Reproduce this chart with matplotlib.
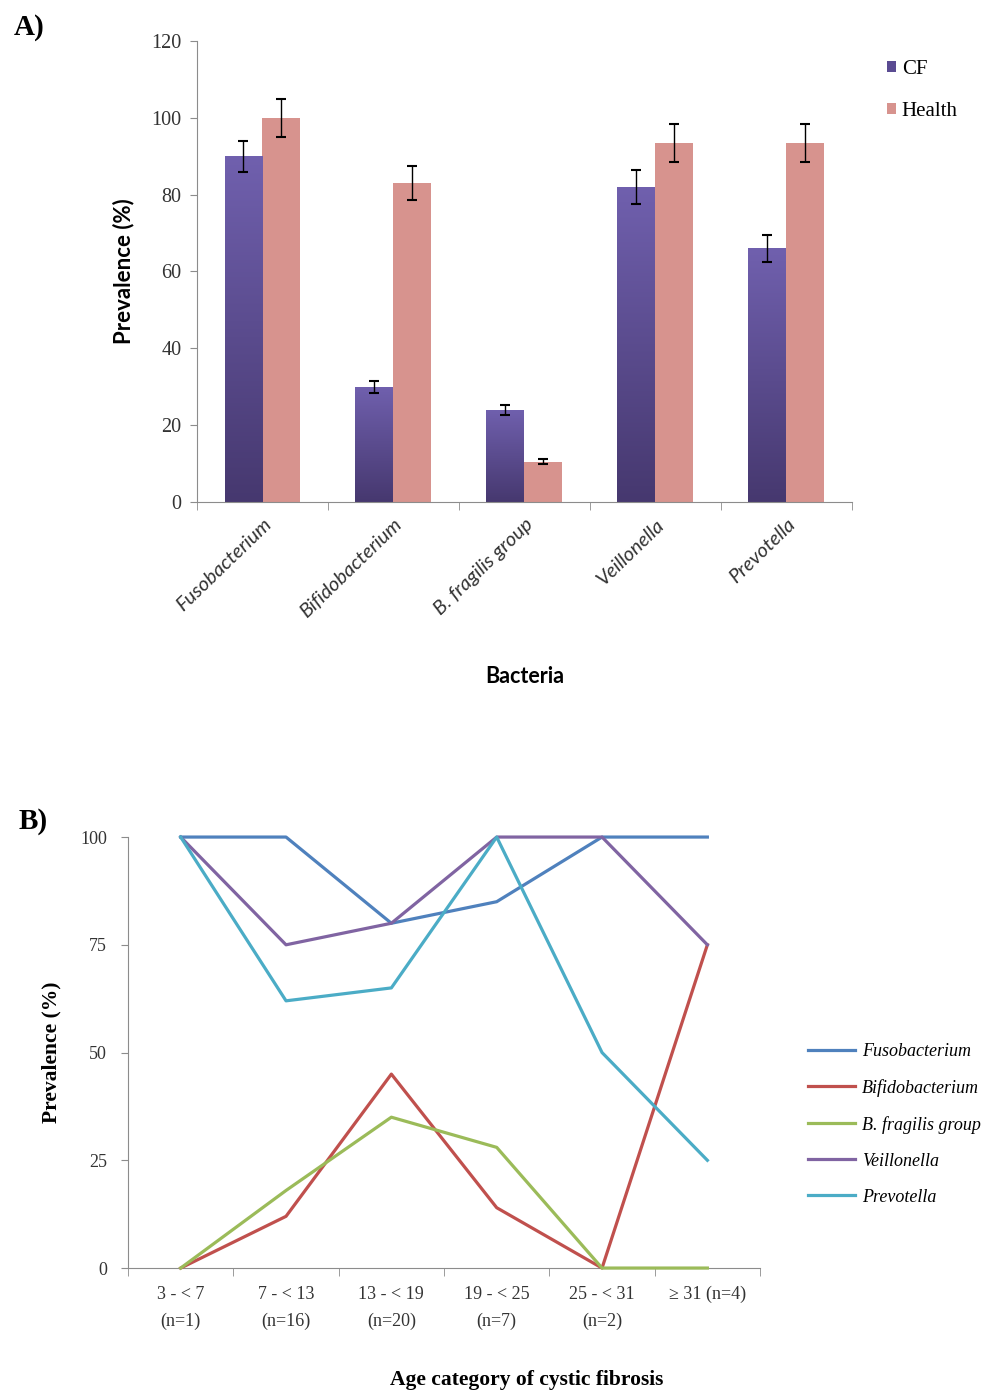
import matplotlib
matplotlib.use("Agg")
import matplotlib.pyplot as plt
import numpy as np

# ---- panel A data
bacteria = ["Fusobacterium", "Bifidobacterium", "B. fragilis group", "Veillonella", "Prevotella"]
cf_vals = [90, 30, 24, 82, 66]
cf_err = [4, 1.5, 1.3, 4.5, 3.5]
health_vals = [100, 83, 10.5, 93.5, 93.5]
health_err = [5, 4.5, 0.7, 5, 5]

# ---- panel B data
age_labels = ["3 - < 7\n(n=1)", "7 - < 13\n(n=16)", "13 - < 19\n(n=20)",
              "19 - < 25\n(n=7)", "25 - < 31\n(n=2)", "\u2265 31 (n=4)"]
fuso = [100, 100, 80, 85, 100, 100]
bifido = [0, 12, 45, 14, 0, 75]
bfrag = [0, 18, 35, 28, 0, 0]
veill = [100, 75, 80, 100, 100, 75]
prevo = [100, 62, 65, 100, 50, 25]

serif = "Liberation Serif"
sans = "Lato"
spine_col = "#8c8c8c"

fig = plt.figure(figsize=(9.84, 13.93), dpi=100)

# ================= A =================
axA = fig.add_axes([0.2002, 0.6396, 0.6656, 0.3310])
x = np.arange(len(bacteria))
w = 0.29
cf_bars = axA.bar(x - w/2, cf_vals, w, color="#5a4b92", zorder=2)
hb = axA.bar(x + w/2, health_vals, w, color="#d7938e", zorder=2)

# vertical gradient on the CF bars
grad = np.linspace(0, 1, 256).reshape(-1, 1)
cmap = matplotlib.colors.LinearSegmentedColormap.from_list("cfg", ["#46386f", "#7060ae"])
for b in cf_bars:
    bx, by = b.get_x(), b.get_y()
    im = axA.imshow(grad, cmap=cmap, aspect="auto", origin="lower",
                    extent=[bx, bx + b.get_width(), by, by + b.get_height()], zorder=2.5)
    im.set_clip_path(b)

axA.errorbar(x - w/2, cf_vals, yerr=cf_err, fmt="none", ecolor="black",
             elinewidth=1, capsize=3.5, capthick=1.5, zorder=4)
axA.errorbar(x + w/2, health_vals, yerr=health_err, fmt="none", ecolor="black",
             elinewidth=1, capsize=3.5, capthick=1.5, zorder=4)

axA.set_xlim(-0.5, 4.5)
axA.set_ylim(0, 120)
axA.set_yticks(range(0, 121, 20))
axA.set_xticks(x)
axA.set_xticks(np.arange(-0.5, 5, 1), minor=True)
axA.set_xticklabels(bacteria, rotation=44, ha="right", va="top",
                    rotation_mode="anchor", fontstyle="italic", family=sans, fontsize=14.5,
                    color="#333333")
axA.tick_params(axis="x", which="major", length=0, pad=10)
axA.tick_params(axis="x", which="minor", length=6, color=spine_col, direction="out")
axA.tick_params(axis="y", length=5, color=spine_col, direction="out", pad=6)
for lab in axA.get_yticklabels():
    lab.set_family(serif)
    lab.set_fontsize(14.5)
    lab.set_color("#333333")
for s in ["top", "right"]:
    axA.spines[s].set_visible(False)
for s in ["left", "bottom"]:
    axA.spines[s].set_color(spine_col)
axA.set_ylabel("Prevalence (%)", family=sans, fontweight="bold", fontsize=16, labelpad=12)
axA.set_xlabel("Bacteria", family=sans, fontweight="bold", fontsize=15.5)
axA.xaxis.set_label_coords(0.5, -0.355)
axA.legend([cf_bars, hb], ["CF", "Health"], loc="upper left", bbox_to_anchor=(1.025, 1.0),
           frameon=False, prop={"family": serif, "size": 15}, handlelength=0.45,
           handleheight=0.45, handletextpad=0.25, labelspacing=1.1)
fig.text(0.014, 0.99, "A)", family=serif, fontweight="bold", fontsize=21, va="top")

# ================= B =================
axB = fig.add_axes([0.1301, 0.0897, 0.6423, 0.3094])
xb = np.arange(len(age_labels))
series = [("Fusobacterium", fuso, "#4f81bd"),
          ("Bifidobacterium", bifido, "#c0504d"),
          ("B. fragilis group", bfrag, "#9bbb59"),
          ("Veillonella", veill, "#8064a2"),
          ("Prevotella", prevo, "#4bacc6")]
for name, vals, col in series:
    axB.plot(xb, vals, color=col, lw=2.3, label=name, clip_on=False, zorder=3)

axB.set_xlim(-0.5, 5.5)
axB.set_ylim(0, 100)
axB.set_yticks([0, 25, 50, 75, 100])
axB.set_xticks(xb)
axB.set_xticks(np.arange(-0.5, 6, 1), minor=True)
axB.set_xticklabels(age_labels, family=serif, fontsize=13, color="#333333", linespacing=1.75)
axB.tick_params(axis="x", which="major", length=0, pad=13)
axB.tick_params(axis="x", which="minor", length=6, color=spine_col, direction="out")
axB.tick_params(axis="y", length=5, color=spine_col, direction="out", pad=10)
for lab in axB.get_yticklabels():
    lab.set_family(serif)
    lab.set_fontsize(13)
    lab.set_color("#333333")
for s in ["top", "right"]:
    axB.spines[s].set_visible(False)
for s in ["left", "bottom"]:
    axB.spines[s].set_color(spine_col)
axB.set_ylabel("Prevalence (%)", family=serif, fontweight="bold", fontsize=15.5)
axB.yaxis.set_label_coords(-0.105, 0.5)
fig.text(0.535, 0.0093, "Age category of cystic fibrosis", family=serif, fontweight="bold",
         fontsize=15.5, ha="center", va="center")
leg = axB.legend(loc="upper left", bbox_to_anchor=(1.05, 0.56), frameon=False,
                 prop={"family": serif, "style": "italic", "size": 13},
                 handlelength=2.6, handletextpad=0.4, labelspacing=1.05)
fig.text(0.019, 0.42, "B)", family=serif, fontweight="bold", fontsize=21, va="top")

fig.savefig("out.png", dpi=100, facecolor="white")
